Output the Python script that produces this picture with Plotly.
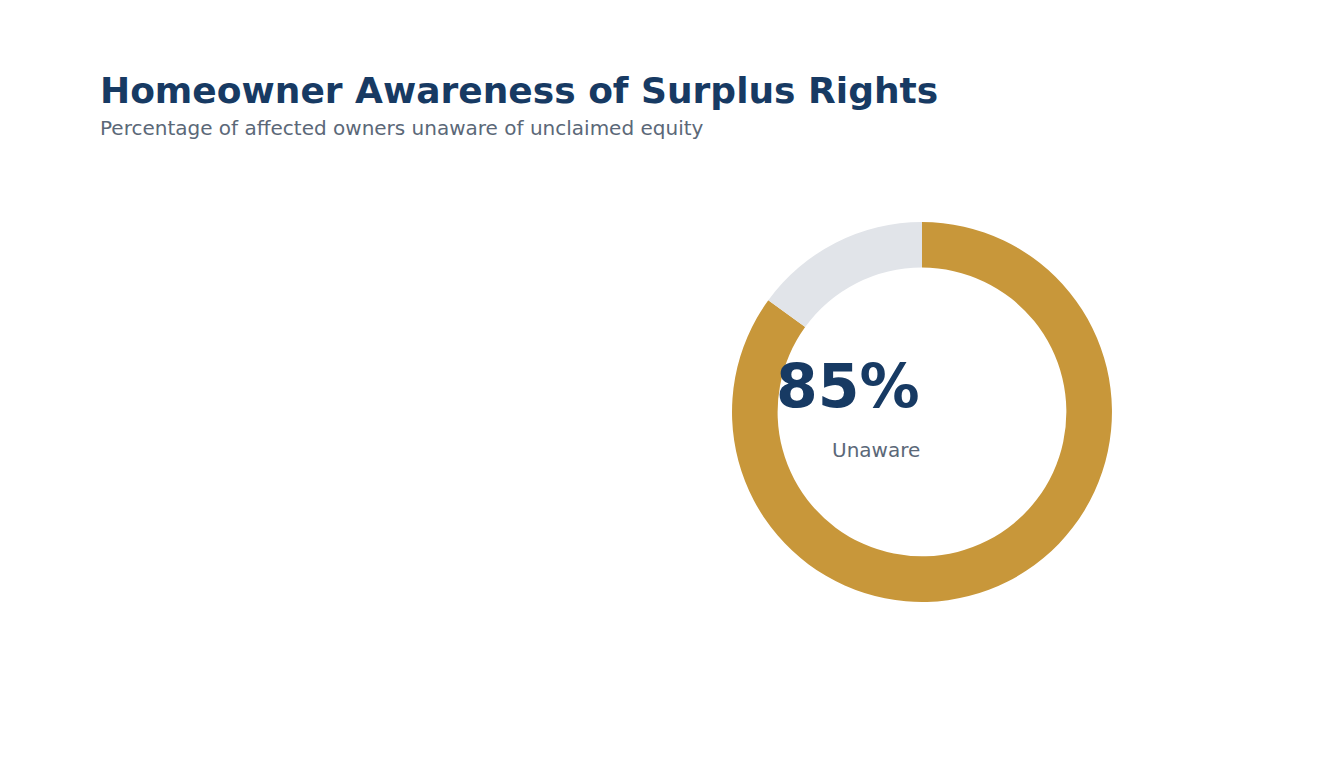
import plotly.graph_objects as go

labels = ["Unaware", "Aware"]
values = [85, 15]
colors = ["#C8973A", "#E1E4E9"]

fig = go.Figure(go.Pie(
    labels=labels, values=values, hole=0.76, sort=False, direction="clockwise",
    rotation=0, marker=dict(colors=colors, line=dict(width=0)),
    textinfo="none", hoverinfo="label+percent",
    domain=dict(x=[0.5387, 0.8214], y=[0.2266, 0.7214]),
))
font = "DejaVu Sans"
fig.update_layout(
    width=1344, height=768, margin=dict(l=0, r=0, t=0, b=0),
    paper_bgcolor="white", showlegend=False,
    annotations=[
        dict(text="<b>Homeowner Awareness of Surplus Rights</b>", x=90/1344, y=1-82/768,
             xref="paper", yref="paper", xanchor="left", yanchor="middle", showarrow=False,
             font=dict(family=font, size=36, color="#173A63")),
        dict(text="Percentage of affected owners unaware of unclaimed equity", x=90/1344, y=1-120/768,
             xref="paper", yref="paper", xanchor="left", yanchor="middle", showarrow=False,
             font=dict(family=font, size=20, color="#5B6878")),
        dict(text="<b>85%</b>", x=914/1344, y=1-378/768, xref="paper", yref="paper",
             showarrow=False, font=dict(family=font, size=60, color="#173A63")),
        dict(text="Unaware", x=914/1344, y=1-442/768, xref="paper", yref="paper",
             showarrow=False, font=dict(family=font, size=20, color="#5B6878")),
    ],
)
fig.write_html("out.html")
